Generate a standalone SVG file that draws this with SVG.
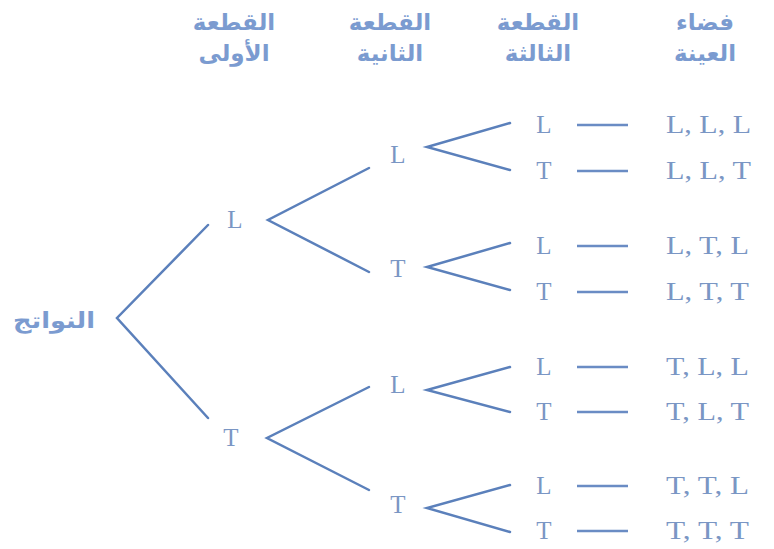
<svg xmlns="http://www.w3.org/2000/svg" width="774" height="549" viewBox="0 0 774 549">
<style>
.ar{font-family:"DejaVu Sans",sans-serif;font-weight:bold;font-size:23px;fill:#7b9bd0;text-anchor:middle}
.lt{font-family:"Liberation Serif",serif;font-size:25px;fill:#7a96c4;text-anchor:middle}
.rs{font-family:"Liberation Serif",serif;font-size:25px;fill:#7a96c4;text-anchor:start}
.ln{stroke:#5b80bb;stroke-width:2.5;fill:none;stroke-linecap:round;stroke-linejoin:miter}
.ds{stroke:#6a8cc4;stroke-width:2.5}
</style>
<rect width="774" height="549" fill="#ffffff"/>
<g id="headers">
<text class="ar" x="234" y="30">القطعة</text>
<text class="ar" x="234" y="61">الأولى</text>
<text class="ar" x="390" y="30">القطعة</text>
<text class="ar" x="390" y="61">الثانية</text>
<text class="ar" x="538" y="30">القطعة</text>
<text class="ar" x="538" y="61">الثالثة</text>
<text class="ar" x="705" y="30">فضاء</text>
<text class="ar" x="705" y="61">العينة</text>
</g>
<g id="connectors">
<polyline class="ln" points="208,225 117,318 208,418"/>
<polyline class="ln" points="369,168 268,220 369,272"/>
<polyline class="ln" points="369,387 267,438 369,490"/>
<polyline class="ln" points="510,123 427,147 510,170"/>
<polyline class="ln" points="510,243 427,267 510,290"/>
<polyline class="ln" points="510,367 427,390 510,412"/>
<polyline class="ln" points="510,485 427,508 510,532"/>
<line class="ds" x1="577" y1="125" x2="628" y2="125"/>
<line class="ds" x1="577" y1="171" x2="628" y2="171"/>
<line class="ds" x1="577" y1="246" x2="628" y2="246"/>
<line class="ds" x1="577" y1="292" x2="628" y2="292"/>
<line class="ds" x1="577" y1="367" x2="628" y2="367"/>
<line class="ds" x1="577" y1="412" x2="628" y2="412"/>
<line class="ds" x1="577" y1="486" x2="628" y2="486"/>
<line class="ds" x1="577" y1="531" x2="628" y2="531"/>
</g>
<g id="root"><text class="ar" x="54" y="328" style="font-size:22px" textLength="82" lengthAdjust="spacingAndGlyphs">النواتج</text></g>
<g id="n1L"><text class="lt" x="235" y="228">L</text></g>
<g id="n1T"><text class="lt" x="231" y="446">T</text></g>
<g id="n2LL"><text class="lt" x="398" y="163">L</text></g>
<g id="n2LT"><text class="lt" x="398" y="277">T</text></g>
<g id="n2TL"><text class="lt" x="398" y="393">L</text></g>
<g id="n2TT"><text class="lt" x="398" y="513">T</text></g>
<g id="n3"><text class="lt" x="544" y="133">L</text><text class="lt" x="544" y="179">T</text>
<text class="lt" x="544" y="254">L</text><text class="lt" x="544" y="300">T</text>
<text class="lt" x="544" y="375">L</text><text class="lt" x="544" y="420">T</text>
<text class="lt" x="544" y="494">L</text><text class="lt" x="544" y="539">T</text></g>
<g id="results">
<text class="rs" x="666" y="133" textLength="85" lengthAdjust="spacingAndGlyphs">L, L, L</text>
<text class="rs" x="666" y="179" textLength="85" lengthAdjust="spacingAndGlyphs">L, L, T</text>
<text class="rs" x="666" y="254" textLength="83" lengthAdjust="spacingAndGlyphs">L, T, L</text>
<text class="rs" x="666" y="300" textLength="83" lengthAdjust="spacingAndGlyphs">L, T, T</text>
<text class="rs" x="666" y="375" textLength="83" lengthAdjust="spacingAndGlyphs">T, L, L</text>
<text class="rs" x="666" y="420" textLength="83" lengthAdjust="spacingAndGlyphs">T, L, T</text>
<text class="rs" x="666" y="494" textLength="83" lengthAdjust="spacingAndGlyphs">T, T, L</text>
<text class="rs" x="666" y="539" textLength="83" lengthAdjust="spacingAndGlyphs">T, T, T</text>
</g>
</svg>
